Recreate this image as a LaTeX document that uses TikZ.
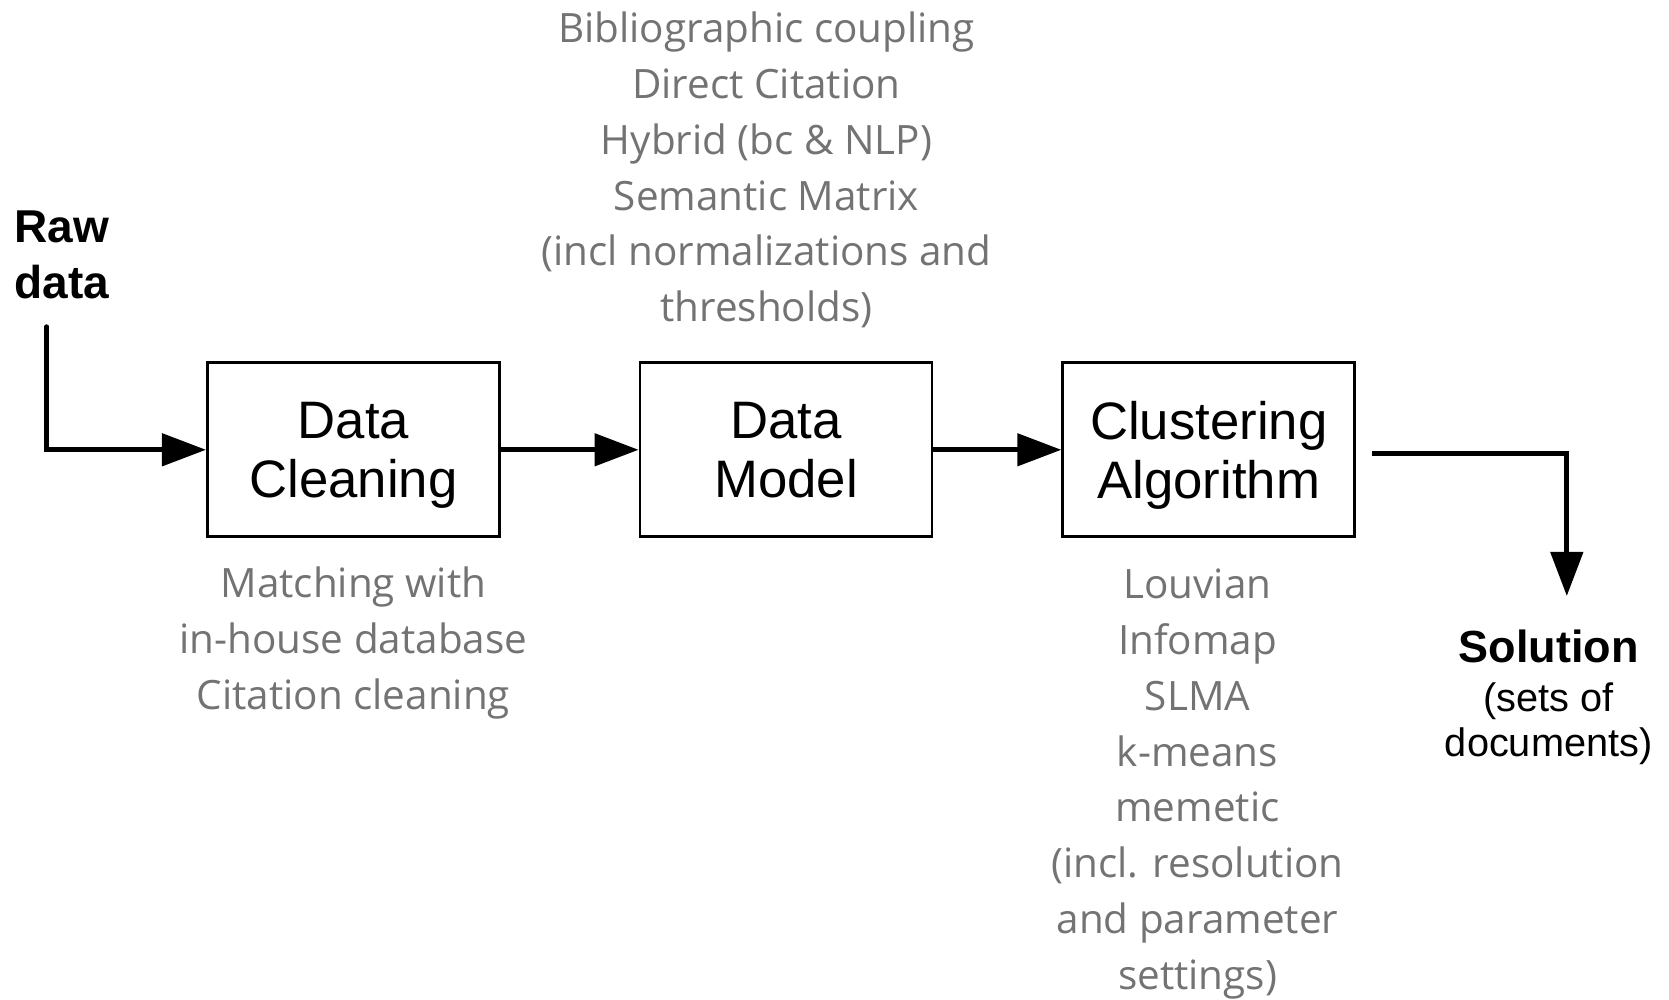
\documentclass[tikz,border=0pt]{standalone}
\usepackage{fontspec}
\setmainfont{Liberation Sans}
\newfontfamily\notefont{Open Sans}
\usetikzlibrary{arrows.meta}

\begin{document}
\begin{tikzpicture}[
  >={Triangle[length=4.4mm, width=3.2mm]},
  stage/.style={rectangle, draw=black, line width=0.8pt, align=center, minimum width=2.92cm, minimum height=1.74cm, inner sep=0pt, text depth=-0.3mm, font=\fontsize{15}{17}\selectfont},
  note/.style ={align=center, text=black!55, font=\notefont\fontsize{11.5}{15.9}\selectfont},
  io/.style   ={align=center, font=\fontsize{11.3}{12.8}\selectfont},
  flow/.style ={->, line width=1.35pt},
]
\useasboundingbox (0,0) rectangle (16.69,9.99);
% stages
\node[stage] (clean) at (3.534,5.492) {Data\\Cleaning};
\node[stage] (model) at (7.860,5.492) {Data\\Model};
\node[stage] (algo)  at (12.087,5.492) {Clustering\\Algorithm};
% input and output
\node[io, align=left, anchor=west, font=\bfseries\fontsize{13.1}{16}\selectfont] (raw) at (0.02,7.44) {Raw\\data};
\node[io] (sol) at (15.487,3.02) {{\bfseries\fontsize{12.8}{15}\selectfont Solution}\\[1.2pt](sets of\\documents)};
\coordinate (rawout) at (0.467,6.723);
\coordinate (solin)  at (15.668,4.03);
% arrows
\draw[flow, line cap=round] (rawout) |- (clean.west);
\draw[flow] (clean) -- (model);
\draw[flow] (model) -- (algo);
\draw[flow] ([xshift=1.6mm,yshift=-0.35mm]algo.east) -| (solin);
% notes
\node[note] (modnote)   at (7.664,8.29)  {Bibliographic coupling\\Direct Citation\\Hybrid (bc \& NLP)\\Semantic Matrix\\(incl normalizations and\\thresholds)};
\node[note] (cleannote) at (3.534,3.56)  {Matching with\\in-house database\\Citation cleaning};
\node[note] (algonote)  at (11.975,2.15) {Louvian\\Infomap\\SLMA\\k-means\\memetic\\(incl. resolution\\and parameter\\settings)};
\end{tikzpicture}
\end{document}
